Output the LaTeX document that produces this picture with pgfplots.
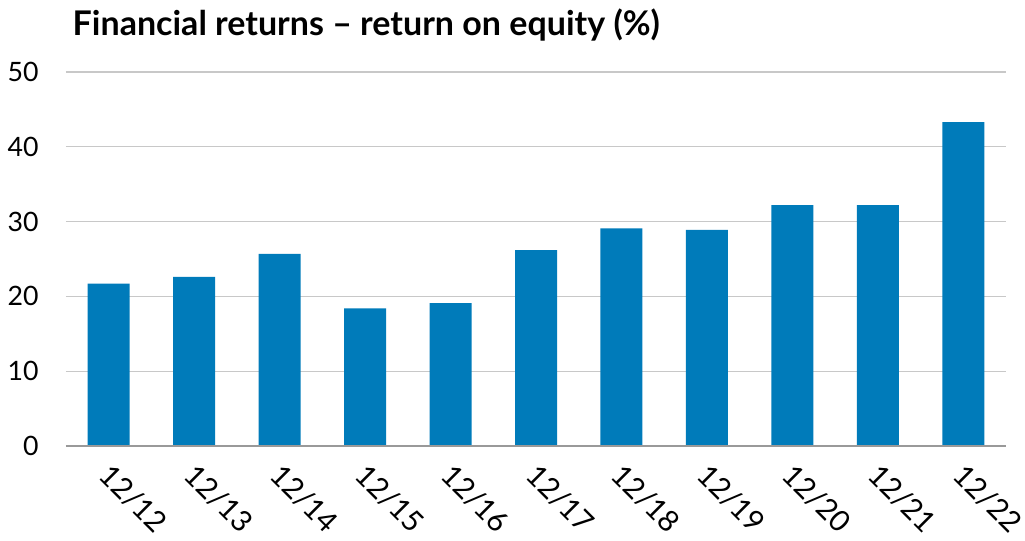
\documentclass[border=0pt]{standalone}
\usepackage{pgfplots}
\pgfplotsset{compat=1.18}
\usepackage{fontspec}
\setmainfont{Lato}
\definecolor{barblue}{HTML}{007BBA}
\definecolor{gridgray}{HTML}{C8C8C8}
\definecolor{axisgray}{HTML}{999999}
\begin{document}
\begin{tikzpicture}[x=1pt,y=1pt]
\path[use as bounding box] (0,0) rectangle (768.75,405);
\begin{axis}[
  at={(49.5pt,70.5pt)}, anchor=south west,
  scale only axis, width=705pt, height=280.5pt,
  xmin=-0.5, xmax=10.5, ymin=0, ymax=50,
  ytick={0,10,20,30,40,50},
  xtick={0,...,10},
  xticklabels={12/12,12/13,12/14,12/15,12/16,12/17,12/18,12/19,12/20,12/21,12/22},
  axis line style={draw=none},
  tick style={draw=none},
  ymajorgrids, grid style={gridgray, line width=0.8pt},
  /pgf/number format/assume math mode=true,
  yticklabel style={font=\fontsize{20}{20}\selectfont, anchor=east, xshift=-17pt},
  xticklabel style={font=\fontsize{22}{22}\selectfont, rotate=-45, anchor=north west, xshift=7pt, yshift=-3pt},
  clip=false,
]
\addplot[ybar, bar width=31.5pt, fill=barblue, draw=none] coordinates {
(0,21.7) (1,22.6) (2,25.7) (3,18.4) (4,19.1) (5,26.2) (6,29.1) (7,28.9) (8,32.2) (9,32.2) (10,43.3)};
\draw[axisgray, line width=1.2pt] (axis cs:-0.5,0) -- (axis cs:10.5,0);
\end{axis}
\node[anchor=base west, font=\bfseries\fontsize{25.5}{25.5}\selectfont] at (51,378) {Financial returns -- return on equity (\%)};
\end{tikzpicture}
\end{document}
